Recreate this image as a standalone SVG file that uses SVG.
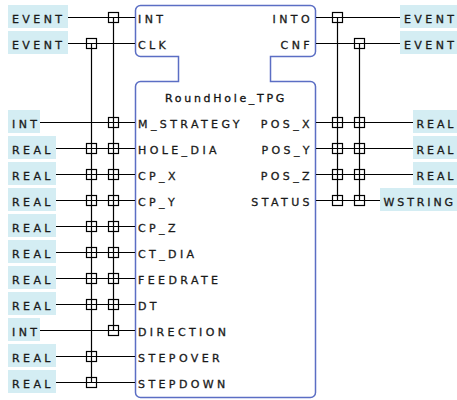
<svg xmlns="http://www.w3.org/2000/svg" width="457" height="400" viewBox="0 0 457 400">
<style>
.lbl{fill:#d4edf3}
.t{font-family:"DejaVu Sans",sans-serif;font-size:11px;letter-spacing:3.4px;fill:#1a1a1a;stroke:#1a1a1a;stroke-width:0.3}
.r{letter-spacing:2.9px}
.e{text-anchor:end}
.ti{font-family:"DejaVu Sans",sans-serif;font-size:11px;letter-spacing:2.7px;fill:#111;stroke:#111;stroke-width:0.3;text-anchor:middle}
.w{stroke:#000;stroke-width:1.2;fill:none}
.sq{stroke:#000;stroke-width:1.2;fill:none}
.blk{fill:#fff;stroke:#5b6ec4;stroke-width:1.5}
</style>
<rect width="457" height="400" fill="#fff"/>
<g id="block">
<path class="blk" d="M140.5 5.5H310.5A5 5 0 0 1 315.5 10.5V51.5A5 5 0 0 1 310.5 56.5H270.5V81.5H310.5A5 5 0 0 1 315.5 86.5V392.5A5 5 0 0 1 310.5 397.5H140.5A5 5 0 0 1 135.5 392.5V86.5A5 5 0 0 1 140.5 81.5H178.5V56.5H140.5A5 5 0 0 1 135.5 51.5V10.5A5 5 0 0 1 140.5 5.5Z"/>
<text class="ti" x="226" y="101.5">RoundHole_TPG</text>
<text class="t" x="138" y="22.5">INT</text>
<text class="t" x="138" y="48.5">CLK</text>
<text class="t e" x="313" y="22.5">INTO</text>
<text class="t e" x="313" y="48.5">CNF</text>
<text class="t" x="138" y="127.5">M_STRATEGY</text>
<text class="t" x="138" y="153.5">HOLE_DIA</text>
<text class="t" x="138" y="179.5">CP_X</text>
<text class="t" x="138" y="205.5">CP_Y</text>
<text class="t" x="138" y="231.5">CP_Z</text>
<text class="t" x="138" y="257.5">CT_DIA</text>
<text class="t" x="138" y="283.5">FEEDRATE</text>
<text class="t" x="138" y="309.5">DT</text>
<text class="t" x="138" y="335.5">DIRECTION</text>
<text class="t" x="138" y="361.5">STEPOVER</text>
<text class="t" x="138" y="387.5">STEPDOWN</text>
<text class="t e" x="313" y="127.5">POS_X</text>
<text class="t e" x="313" y="153.5">POS_Y</text>
<text class="t e" x="313" y="179.5">POS_Z</text>
<text class="t e" x="313" y="205.5">STATUS</text>
</g>
<g id="in-labels">
<rect class="lbl" x="8" y="5" width="60" height="23"/><text class="t" x="12" y="22.5">EVENT</text>
<rect class="lbl" x="8" y="31" width="60" height="23"/><text class="t" x="12" y="48.5">EVENT</text>
<rect class="lbl" x="8" y="110" width="32" height="23"/><text class="t" x="12" y="127.5">INT</text>
<rect class="lbl" x="8" y="136" width="48" height="23"/><text class="t" x="12" y="153.5">REAL</text>
<rect class="lbl" x="8" y="162" width="48" height="23"/><text class="t" x="12" y="179.5">REAL</text>
<rect class="lbl" x="8" y="188" width="48" height="23"/><text class="t" x="12" y="205.5">REAL</text>
<rect class="lbl" x="8" y="214" width="48" height="23"/><text class="t" x="12" y="231.5">REAL</text>
<rect class="lbl" x="8" y="240" width="48" height="23"/><text class="t" x="12" y="257.5">REAL</text>
<rect class="lbl" x="8" y="266" width="48" height="23"/><text class="t" x="12" y="283.5">REAL</text>
<rect class="lbl" x="8" y="292" width="48" height="23"/><text class="t" x="12" y="309.5">REAL</text>
<rect class="lbl" x="8" y="318" width="32" height="23"/><text class="t" x="12" y="335.5">INT</text>
<rect class="lbl" x="8" y="344" width="48" height="23"/><text class="t" x="12" y="361.5">REAL</text>
<rect class="lbl" x="8" y="370" width="48" height="23"/><text class="t" x="12" y="387.5">REAL</text>
</g>
<g id="out-labels">
<rect class="lbl" x="400" y="5" width="60" height="23"/><text class="t" x="404" y="22.5">EVENT</text>
<rect class="lbl" x="400" y="31" width="60" height="23"/><text class="t" x="404" y="48.5">EVENT</text>
<rect class="lbl" x="413" y="110" width="48" height="23"/><text class="t r" x="416.5" y="127.5">REAL</text>
<rect class="lbl" x="413" y="136" width="48" height="23"/><text class="t r" x="416.5" y="153.5">REAL</text>
<rect class="lbl" x="413" y="162" width="48" height="23"/><text class="t r" x="416.5" y="179.5">REAL</text>
<rect class="lbl" x="380" y="188" width="82" height="23"/><text class="t r" x="383.5" y="205.5">WSTRING</text>
</g>
<g id="connectors">
<path class="w" d="M68 17.5H135M68 43.5H135M40 122.5H135M56 148.5H135M56 174.5H135M56 200.5H135M56 226.5H135M56 252.5H135M56 278.5H135M56 304.5H135M40 330.5H135M56 356.5H135M56 382.5H135"/>
<path class="w" d="M316 17.5H400M316 43.5H400M316 122.5H413M316 148.5H413M316 174.5H413M316 200.5H380"/>
<path class="w" d="M113.5 17.5V330.5M91.5 43.5V382.5M337.5 17.5V200.5M359.5 43.5V200.5"/>
</g>
<g id="with-squares">
<rect class="sq" x="108.5" y="12.5" width="10" height="10"/>
<rect class="sq" x="86.5" y="38.5" width="10" height="10"/>
<rect class="sq" x="108.5" y="117.5" width="10" height="10"/>
<rect class="sq" x="86.5" y="143.5" width="10" height="10"/><rect class="sq" x="108.5" y="143.5" width="10" height="10"/>
<rect class="sq" x="86.5" y="169.5" width="10" height="10"/><rect class="sq" x="108.5" y="169.5" width="10" height="10"/>
<rect class="sq" x="86.5" y="195.5" width="10" height="10"/><rect class="sq" x="108.5" y="195.5" width="10" height="10"/>
<rect class="sq" x="86.5" y="221.5" width="10" height="10"/><rect class="sq" x="108.5" y="221.5" width="10" height="10"/>
<rect class="sq" x="86.5" y="247.5" width="10" height="10"/><rect class="sq" x="108.5" y="247.5" width="10" height="10"/>
<rect class="sq" x="86.5" y="273.5" width="10" height="10"/><rect class="sq" x="108.5" y="273.5" width="10" height="10"/>
<rect class="sq" x="86.5" y="299.5" width="10" height="10"/><rect class="sq" x="108.5" y="299.5" width="10" height="10"/>
<rect class="sq" x="108.5" y="325.5" width="10" height="10"/>
<rect class="sq" x="86.5" y="351.5" width="10" height="10"/>
<rect class="sq" x="86.5" y="377.5" width="10" height="10"/>
<rect class="sq" x="332.5" y="12.5" width="10" height="10"/>
<rect class="sq" x="354.5" y="38.5" width="10" height="10"/>
<rect class="sq" x="332.5" y="117.5" width="10" height="10"/><rect class="sq" x="354.5" y="117.5" width="10" height="10"/>
<rect class="sq" x="332.5" y="143.5" width="10" height="10"/><rect class="sq" x="354.5" y="143.5" width="10" height="10"/>
<rect class="sq" x="332.5" y="169.5" width="10" height="10"/><rect class="sq" x="354.5" y="169.5" width="10" height="10"/>
<rect class="sq" x="332.5" y="195.5" width="10" height="10"/><rect class="sq" x="354.5" y="195.5" width="10" height="10"/>
</g>
</svg>
